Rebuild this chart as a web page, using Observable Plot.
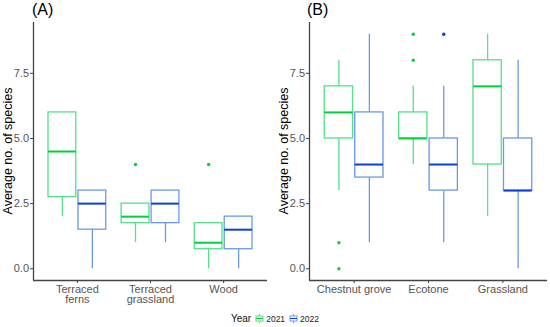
<!DOCTYPE html>
<html>
<head>
<meta charset="utf-8">
<script src="https://cdn.jsdelivr.net/npm/d3@7"></script>
<script src="https://cdn.jsdelivr.net/npm/@observablehq/plot@0.6"></script>
<style>
  body { margin: 0; background: #fff; font-family: "Liberation Sans", Arial, sans-serif; }
  #wrap { position: relative; width: 550px; height: 327px; overflow: hidden; background: #fff; }
  .panel { position: absolute; top: 0; }
  .plabel { position: absolute; top: 1px; font-size: 16px; color: #000; }
  .ytitle { position: absolute; font-size: 12.5px; color: #000; transform: rotate(-90deg); transform-origin: center; white-space: nowrap; }
  #legend { position: absolute; top: 313px; left: 0; width: 550px; text-align: center; font-size: 8.5px; color: #222; }
  #legend .ttl { font-size: 10px; margin-right: 3px; color: #111; }
  #legend svg { vertical-align: -1px; margin: 0 2px 0 1px; }
</style>
</head>
<body>
<div id="wrap">
  <div id="pa" class="panel" style="left:0"></div>
  <div id="pb" class="panel" style="left:275px"></div>
  <div class="plabel" style="left:32px">(A)</div>
  <div class="plabel" style="left:307px">(B)</div>
  <div class="ytitle" id="yta">Average no. of species</div>
  <div class="ytitle" id="ytb">Average no. of species</div>
  <div id="legend"></div>
</div>
<script>
// ---- data ----
const years = ["2021", "2022"];
const categoriesA = ["Terraced\nferns", "Terraced\ngrassland", "Wood"];
const categoriesB = ["Chestnut grove", "Ecotone", "Grassland"];
const yTicks = [0, 2.5, 5, 7.5];
const yDomain = [-0.45, 9.45];
// five-number summaries per category: [low whisker, Q1, median, Q3, high whisker]
const boxesA2021 = [[2, 2.75, 4.5, 6, 6], [1, 1.75, 2, 2.5, 2.5], [0, 0.75, 1, 1.75, 1.75]];
const boxesA2022 = [[0, 1.5, 2.5, 3, 3], [1, 1.75, 2.5, 3, 3], [0, 0.75, 1.5, 2, 2]];
const boxesB2021 = [[3, 5, 6, 7, 8], [4, 5, 5, 6, 7], [2, 4, 7, 8, 9]];
const boxesB2022 = [[1, 3.5, 4, 6, 9], [1, 3, 4, 5, 7], [0, 3, 3, 5, 8]];
// outliers: [category index, year, value]
const outliersA = [[1, "2021", 4], [2, "2021", 4]];
const outliersB = [[0, "2021", 1], [0, "2021", 0], [1, "2021", 8], [1, "2021", 9], [1, "2022", 9]];

const lineColor = {"2021": "#55e08a", "2022": "#6a98ec"};
const darkColor = {"2021": "#00d13d", "2022": "#0a3fdd"};
const dodge = 0.205, boxW = 0.38;

function rows(b21, b22) {
  const out = [];
  [b21, b22].forEach((b, j) => b.forEach((s, i) => {
    const xc = i + 1 + (j === 0 ? -dodge : dodge);
    out.push({year: years[j], xc, x1: xc - boxW / 2, x2: xc + boxW / 2,
      lo: s[0], q1: s[1], med: s[2], q3: s[3], hi: s[4]});
  }));
  return out;
}
function outRows(o) {
  return o.map(([i, y, v]) => ({year: y, xc: i + 1 + (y === "2021" ? -dodge : dodge), v}));
}

function panel(cats, data, outs, ml, mr) {
  const xDomain = [0.4, cats.length + 0.6];
  return Plot.plot({
    width: 275, height: 310,
    marginLeft: ml, marginRight: mr, marginTop: 22, marginBottom: 30,
    style: {fontFamily: "Liberation Sans, Arial, sans-serif", background: "#fff"},
    x: {domain: xDomain, ticks: cats.map((_, i) => i + 1), tickFormat: d => cats[d - 1], label: null},
    y: {domain: yDomain, ticks: yTicks, tickFormat: d3.format(".1f"), label: null},
    marks: [
      Plot.axisY({ticks: yTicks, tickFormat: d3.format(".1f"), tickSize: 3, tickPadding: 1.5, fontSize: 11, color: "#555", stroke: "#444", label: null}),
      Plot.axisX({ticks: cats.map((_, i) => i + 1), tickFormat: d => cats[d - 1], tickSize: 3, tickPadding: 2, fontSize: 11, color: "#555", stroke: "#444", lineHeight: 0.95, label: null}),
      Plot.ruleX(data, {x: "xc", y1: "lo", y2: "q1", stroke: d => lineColor[d.year], strokeWidth: 1.3}),
      Plot.ruleX(data, {x: "xc", y1: "q3", y2: "hi", stroke: d => lineColor[d.year], strokeWidth: 1.3}),
      Plot.rect(data, {x1: "x1", x2: "x2", y1: "q1", y2: "q3", fill: "white", stroke: d => lineColor[d.year], strokeWidth: 1.3}),
      Plot.ruleY(data, {x1: "x1", x2: "x2", y: "med", stroke: d => darkColor[d.year], strokeWidth: 2}),
      Plot.dot(outs, {x: "xc", y: "v", r: 1.7, fill: d => darkColor[d.year], stroke: "none"}),
      Plot.ruleX([xDomain[0]], {y1: yDomain[0], y2: yDomain[1], stroke: "#444", strokeWidth: 1.3}),
      Plot.ruleY([yDomain[0]], {x1: xDomain[0], x2: xDomain[1], stroke: "#444", strokeWidth: 1.3})
    ]
  });
}

document.getElementById("pa").appendChild(panel(categoriesA, rows(boxesA2021, boxesA2022), outRows(outliersA), 33, 8));
document.getElementById("pb").appendChild(panel(categoriesB, rows(boxesB2021, boxesB2022), outRows(outliersB), 34, 3));

// y titles (rotated), centred on the plotting area
function placeTitle(id, cx) {
  const el = document.getElementById(id);
  const w = el.offsetWidth, h = el.offsetHeight;
  el.style.left = (cx - w / 2) + "px";
  el.style.top = (151 - h / 2) + "px";
}
placeTitle("yta", 8.5);
placeTitle("ytb", 284);

// legend
const leg = document.getElementById("legend");
const ttl = document.createElement("span");
ttl.className = "ttl"; ttl.textContent = "Year";
leg.appendChild(ttl);
years.forEach((y, i) => {
  const ns = "http://www.w3.org/2000/svg";
  const s = document.createElementNS(ns, "svg");
  s.setAttribute("width", 9); s.setAttribute("height", 9);
  s.innerHTML = `<line x1="4.5" y1="0" x2="4.5" y2="9" stroke="${lineColor[y]}" stroke-width="1"/>
    <rect x="1" y="2" width="7" height="5" fill="white" stroke="${lineColor[y]}" stroke-width="1"/>
    <line x1="1" y1="4.5" x2="8" y2="4.5" stroke="${darkColor[y]}" stroke-width="1"/>`;
  leg.appendChild(s);
  const t = document.createElement("span");
  t.textContent = y;
  t.style.marginRight = i === 0 ? "3px" : "0";
  leg.appendChild(t);
});
</script>
</body>
</html>
